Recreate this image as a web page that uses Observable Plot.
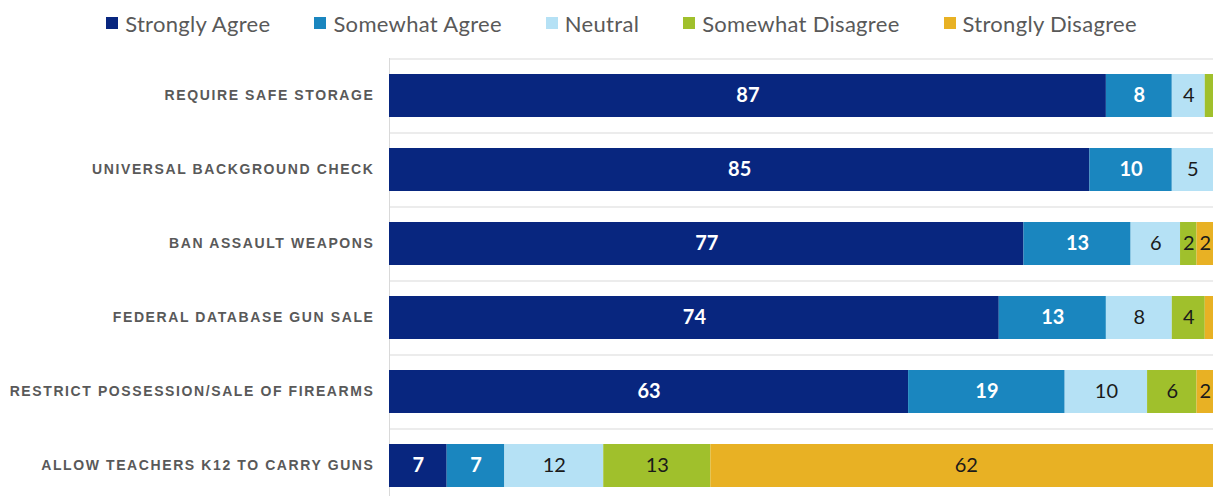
<!DOCTYPE html>
<html>
<head>
<meta charset="utf-8">
<script src="https://cdn.jsdelivr.net/npm/d3@7"></script>
<script src="https://cdn.jsdelivr.net/npm/@observablehq/plot@0.6"></script>
<style>
  html, body { margin: 0; padding: 0; background: #fff; overflow: hidden; }
  #legend { height: 46px; display: flex; align-items: center; justify-content: center; gap: 44px;
            padding-left: 30px; box-sizing: border-box; width: 1213px;
            font-family: Lato, "Open Sans", sans-serif; font-size: 22px; letter-spacing: 0.3px; color: #595959; }
  #legend .item { display: flex; align-items: center; white-space: nowrap; }
  #legend .sw { width: 12px; height: 12px; margin-right: 7px; display: inline-block; }
  g[aria-label="y-axis tick label"] text { letter-spacing: 1.6px; }
</style>
</head>
<body>
<div id="legend"></div>
<div id="chart"></div>
<script>
const questions = [
  "REQUIRE SAFE STORAGE",
  "UNIVERSAL BACKGROUND CHECK",
  "BAN ASSAULT WEAPONS",
  "FEDERAL DATABASE GUN SALE",
  "RESTRICT POSSESSION/SALE OF FIREARMS",
  "ALLOW TEACHERS K12 TO CARRY GUNS"
];
const responses = ["Strongly Agree", "Somewhat Agree", "Neutral", "Somewhat Disagree", "Strongly Disagree"];
const stronglyAgree    = [87, 85, 77, 74, 63, 7];
const somewhatAgree    = [8, 10, 13, 13, 19, 7];
const neutral          = [4, 5, 6, 8, 10, 12];
const somewhatDisagree = [1, 1, 2, 4, 6, 13];
const stronglyDisagree = [0, 0, 2, 1, 2, 62];
const colors = ["#08267f", "#1a86bf", "#b5e1f5", "#a0c02c", "#e8b124"];
const darkResponses = ["Strongly Agree", "Somewhat Agree"];

const series = [stronglyAgree, somewhatAgree, neutral, somewhatDisagree, stronglyDisagree];
const data = [];
questions.forEach((q, i) => {
  responses.forEach((r, j) => data.push({question: q, response: r, value: series[j][i]}));
});

// Legend
const legend = document.getElementById("legend");
responses.forEach((r, j) => {
  const it = document.createElement("span");
  it.className = "item";
  const sw = document.createElement("span");
  sw.className = "sw";
  sw.style.background = colors[j];
  it.appendChild(sw);
  it.appendChild(document.createTextNode(r));
  legend.appendChild(it);
});

const stackOpts = {x: "value", y: "question", z: "response", order: responses};

const chart = Plot.plot({
  width: 1213,
  height: 456,
  marginLeft: 389,
  marginRight: 0,
  marginTop: 12,
  marginBottom: 0,
  style: {fontFamily: "Lato, 'Open Sans', sans-serif", background: "#fff"},
  x: {domain: [0, 100], axis: null},
  y: {domain: questions, paddingInner: 0.42, paddingOuter: 0.21, label: null},
  color: {domain: responses, range: colors},
  marks: [
    Plot.ruleY(questions, {y: d => d, dy: -37, stroke: "#d9d9d9"}),
    Plot.ruleX([0], {stroke: "#d9d9d9"}),
    Plot.barX(data, Plot.stackX({...stackOpts, fill: "response", clip: true})),
    Plot.text(data, Plot.stackX({...stackOpts,
      text: d => darkResponses.includes(d.response) && d.value >= 2 ? String(d.value) : null,
      fill: "white", fontWeight: "bold", fontSize: 20, fontFamily: "Lato, 'Open Sans', sans-serif"})),
    Plot.text(data, Plot.stackX({...stackOpts,
      text: d => !darkResponses.includes(d.response) && d.value >= 2 ? String(d.value) : null,
      fill: "#1a1a1a", fontSize: 20, fontFamily: "Lato, 'Open Sans', sans-serif"})),
    Plot.axisY({tickSize: 0, tickPadding: 15, fontSize: 14, fontWeight: "bold",
      fontFamily: "'Liberation Sans', Arial, sans-serif", fill: "#595959", label: null})
  ]
});
document.getElementById("chart").appendChild(chart);
</script>
</body>
</html>
